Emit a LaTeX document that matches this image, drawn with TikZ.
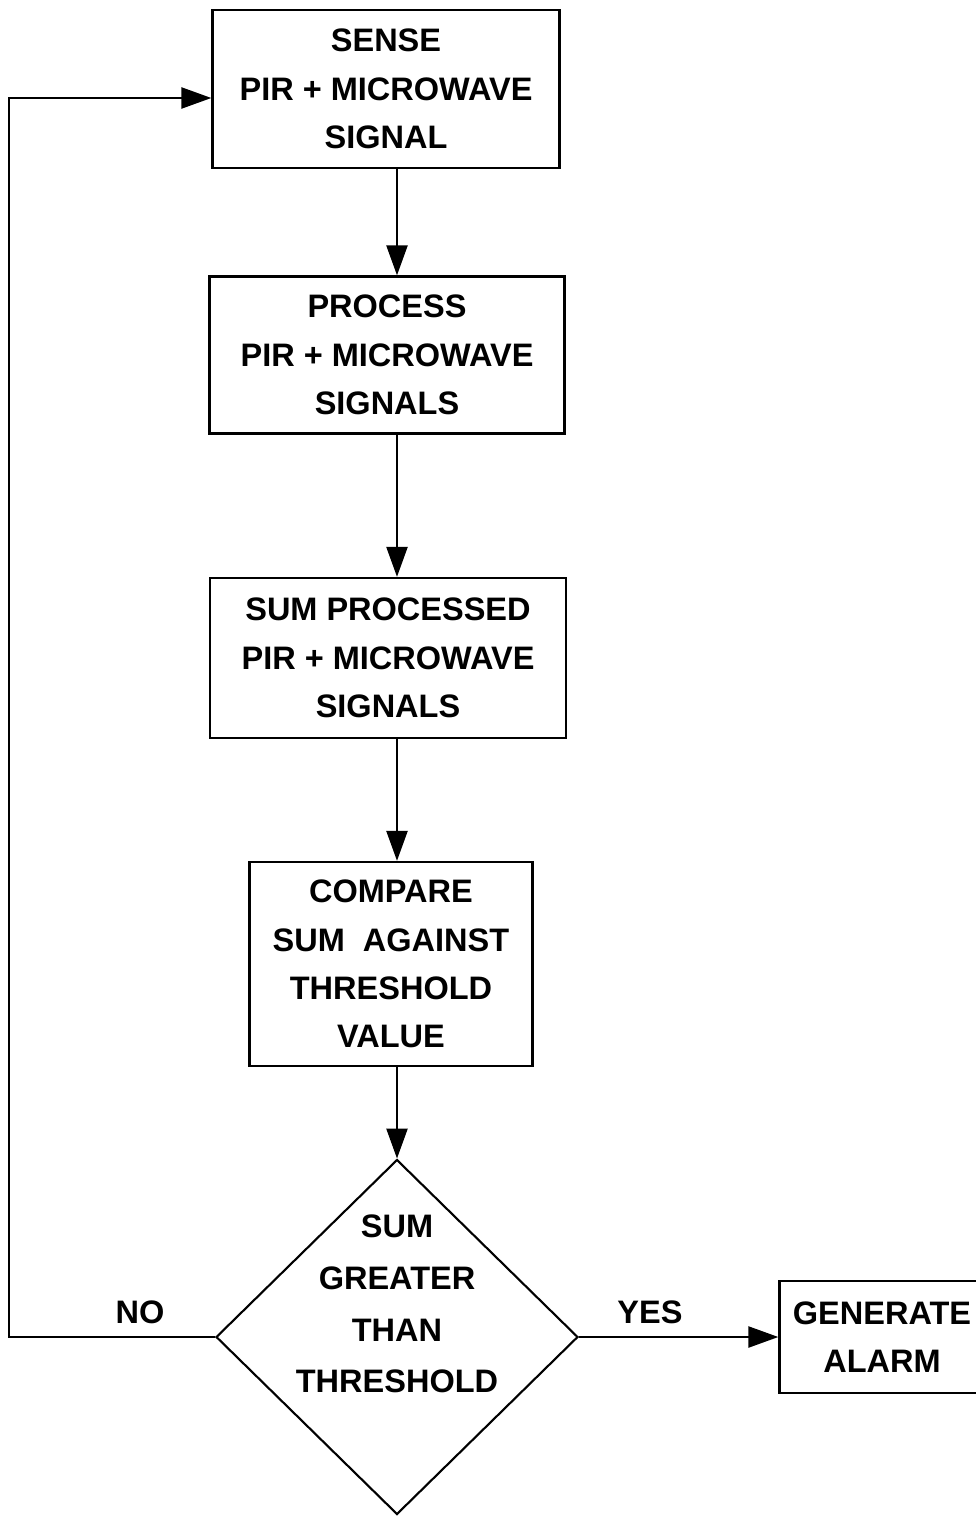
\documentclass[tikz,border=0pt]{standalone}
\usepackage{fontspec}
\setmainfont{Liberation Sans}
\usetikzlibrary{positioning,arrows.meta,shapes.geometric,calc}

\begin{document}
\begin{tikzpicture}[x=0.02cm, y=-0.02cm, font=\fontsize{18.5}{27.5}\selectfont\bfseries,
      >={Triangle[length=17pt,width=12pt]}, line width=1.1pt,
      p/.style={draw, line width=1.4pt, align=center, inner sep=2pt},
      q/.style={draw, diamond, line width=1.2pt, minimum width=7.24cm,
                minimum height=7.1cm, inner sep=0pt}]
    \useasboundingbox (0,0) rectangle (975,1517);
    \node[p, minimum width=6.94cm, minimum height=3.16cm] (b1) at (386,89) {SENSE\\PIR + MICROWAVE\\SIGNAL};
    \node[p, minimum width=7.10cm, minimum height=3.14cm] (b2) at (387,355) {PROCESS\\PIR + MICROWAVE\\SIGNALS};
    \node[p, minimum width=7.12cm, minimum height=3.20cm] (b3) at (388,658) {SUM PROCESSED\\PIR + MICROWAVE\\SIGNALS};
    \node[p, minimum width=5.66cm, minimum height=4.08cm] (b4) at (391,964) {COMPARE\\SUM\ \ AGAINST\\THRESHOLD\\VALUE};
    \node[q] (dec) at (397,1337) {};
    \node[align=center, font=\fontsize{18.5}{29.5}\selectfont\bfseries] (dectext) at ([yshift=0.66cm]dec.center) {SUM\\GREATER\\THAN\\THRESHOLD};
    \node[p, minimum width=4.1cm, minimum height=2.24cm] (gen) at (882,1337) {GENERATE\\ALARM};
    \foreach \x/\y in {b1/b2,b2/b3,b3/b4,b4/dec} \draw[->] (\x.south -| dec.north) -- (\y.north -| dec.north);
    \draw[->] (dec.east) -- (gen.west);
    \draw[->] (dec.west) -- ++(-206,0) |- ([yshift=-0.18cm]b1.west);
    \node (no) at (140,1312) {NO};
    \node (yes) at (650,1312) {YES};
  \end{tikzpicture}
\end{document}
